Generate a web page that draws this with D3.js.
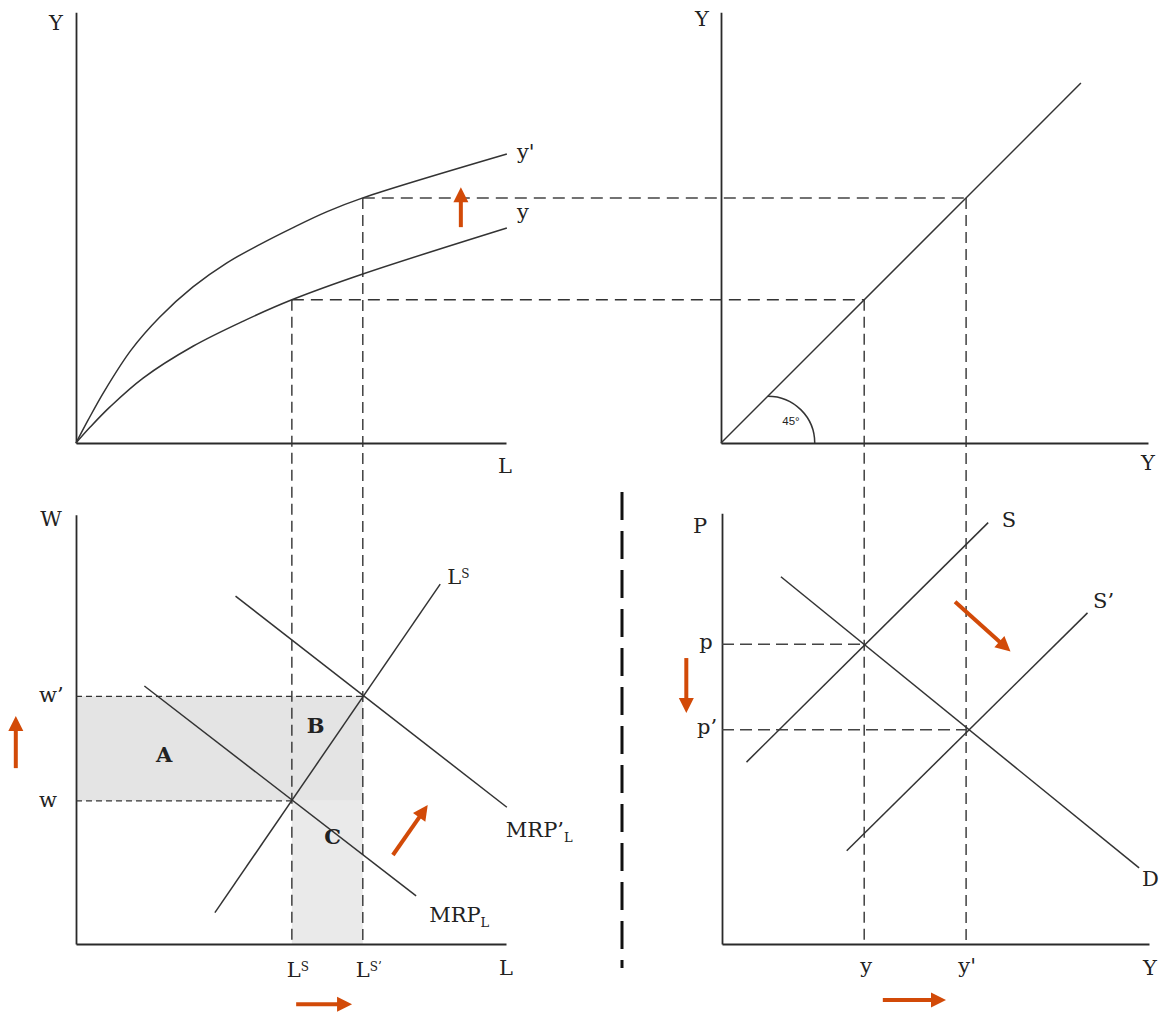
<!DOCTYPE html>
<html><head><meta charset="utf-8">
<script src="https://cdn.jsdelivr.net/npm/d3@7"></script>
<style>body{margin:0;background:#fff} svg{display:block}</style>
</head><body>
<svg id="c" width="1173" height="1016"></svg>
<script>
// ---------- data (panel units 0..10) ----------
const prodCurveY      = [[0,0],[0.33,0.37],[0.79,0.84],[1.56,1.51],[2.72,2.25],[3.88,2.83],[5.02,3.33],[6.67,3.93],[10.02,5.0]];
const prodCurveYPrime = [[0,0],[0.28,0.53],[0.65,1.19],[1.28,2.16],[1.95,2.93],[2.72,3.63],[3.51,4.19],[4.28,4.62],[5.05,5.01],[5.84,5.38],[6.67,5.70],[10.02,6.72]];
const labourLevels = [5.02, 6.67];   // Ls, Ls'
const outputLevels = [3.33, 5.70];   // y, y'
const wageLevels   = [3.33, 5.76];   // w, w'
const priceLevels  = [6.97, 4.98];   // p, p'
const line45        = [[0,0],[8.37,8.37]];
const angleRadius   = 1.09;
const mrpL          = [[1.59,6.0],[7.91,1.12]];
const mrpLPrime     = [[3.71,8.09],[10.02,3.18]];
const labourSupply  = [[3.23,0.73],[8.47,8.37]];
const supplyS       = [[0.57,4.23],[6.19,9.80]];
const supplySPrime  = [[2.90,2.17],[8.50,7.70]];
const demandD       = [[1.37,8.54],[9.70,1.77]];
const shiftArrows = [
  ['TL',[8.95,5.02],[8.95,5.95]],
  ['BL',[-1.40,4.09],[-1.40,5.30]],
  ['BL',[7.37,2.07],[8.18,3.23]],
  ['BL',[5.12,-1.40],[6.42,-1.40]],
  ['BR',[-0.83,6.65],[-0.83,5.37]],
  ['BR',[5.42,7.96],[6.71,6.80]],
  ['BR',[3.74,-1.30],[5.21,-1.30]]
];
const regionLabels = ['A','B','C'];

// ---------- layout ----------
const svg = d3.select('#c');
const INK = '#2a2a2a', ORANGE = '#d24a08';
const SERIF = "'DejaVu Serif', serif";
function mk(ox, oy){ return {x:d3.scaleLinear().domain([0,10]).range([ox, ox+430]),
                              y:d3.scaleLinear().domain([0,10]).range([oy, oy-430])}; }
const P = {TL: mk(76,443), TR: mk(721,443), BL: mk(76,944), BR: mk(722,944)};
const {TL, TR, BL, BR} = P;

const [L1, L2] = labourLevels, [Y1, Y2] = outputLevels, [w1, w2] = wageLevels, [p1, p2] = priceLevels;
svg.append('rect').attr('x', BL.x(0)).attr('y', BL.y(w2)).attr('width', BL.x(L2)-BL.x(0))
   .attr('height', BL.y(w1)-BL.y(w2)).attr('fill', '#e4e4e4');
svg.append('rect').attr('x', BL.x(L1)).attr('y', BL.y(w1)).attr('width', BL.x(L2)-BL.x(L1))
   .attr('height', BL.y(0)-BL.y(w1)).attr('fill', '#eaeaea');

function axes(sc, xmax, ymax){
  const xs = d3.scaleLinear().domain([0,xmax]).range([sc.x(0), sc.x(xmax)]);
  const ys = d3.scaleLinear().domain([0,ymax]).range([sc.y(0), sc.y(ymax)]);
  svg.append('g').attr('class','ax').attr('transform',`translate(0,${sc.y(0)})`)
     .call(d3.axisBottom(xs).tickValues([]).tickSizeOuter(0));
  svg.append('g').attr('class','ax').attr('transform',`translate(${sc.x(0)},0)`)
     .call(d3.axisLeft(ys).tickValues([]).tickSizeOuter(0));
}
axes(TL, 10, 10.02); axes(TR, 9.93, 10.02); axes(BL, 10, 9.98); axes(BR, 9.93, 10.02);
svg.selectAll('.ax .domain').attr('stroke', INK).attr('stroke-width', 1.8);

function dline(x1,y1,x2,y2,dash,w,col){
  svg.append('line').attr('x1',x1).attr('y1',y1).attr('x2',x2).attr('y2',y2)
     .attr('stroke',col||'#333').attr('stroke-width',w||1.4).attr('stroke-dasharray',dash);
}
dline(TL.x(L1), TL.y(Y1), TR.x(Y1), TR.y(Y1), '12,7', 1.5);
dline(TL.x(L2), TL.y(Y2), TR.x(Y2), TR.y(Y2), '12,7', 1.5, '#444');
dline(TL.x(L1), TL.y(Y1), BL.x(L1), BL.y(0), '11,6', 1.4);
dline(TL.x(L2), TL.y(Y2), BL.x(L2), BL.y(0), '11,6', 1.4);
dline(TR.x(Y1), TR.y(Y1), TR.x(Y1), BR.y(0), '11,6', 1.4);
dline(TR.x(Y2), TR.y(Y2), TR.x(Y2), BR.y(0), '11,6', 1.4);
dline(BL.x(0), BL.y(w2), BL.x(L2), BL.y(w2), '6,4', 1.3);
dline(BL.x(0), BL.y(w1), BL.x(L1), BL.y(w1), '6,4', 1.3);
dline(BR.x(0), BR.y(p1), BR.x(Y1), BR.y(p1), '12,6', 1.5, '#444');
dline(BR.x(0), BR.y(p2), BR.x(Y2), BR.y(p2), '12,6', 1.5, '#444');

svg.append('line').attr('x1',622).attr('x2',622).attr('y1',492).attr('y2',968)
   .attr('stroke','#111').attr('stroke-width',3).attr('stroke-dasharray','28,11');

function curve(sc, pts, c){
  svg.append('path').datum(pts)
     .attr('d', d3.line().x(d=>sc.x(d[0])).y(d=>sc.y(d[1])).curve(c||d3.curveLinear))
     .attr('fill','none').attr('stroke','#333').attr('stroke-width',1.5);
}
curve(TL, prodCurveYPrime, d3.curveCatmullRom.alpha(0.5));
curve(TL, prodCurveY, d3.curveCatmullRom.alpha(0.5));
curve(TR, line45);
curve(BL, mrpL); curve(BL, mrpLPrime); curve(BL, labourSupply);
curve(BR, supplyS); curve(BR, supplySPrime); curve(BR, demandD);
svg.append('path')
   .attr('d', `M${TR.x(angleRadius)},${TR.y(angleRadius)} A${TR.x(angleRadius)-TR.x(0)},${TR.y(0)-TR.y(angleRadius)} 0 0 1 ${TR.x(2*angleRadius)},${TR.y(0)}`)
   .attr('fill','none').attr('stroke','#333').attr('stroke-width',1.5);

shiftArrows.forEach(([pn, a, b]) => {
  const sc = P[pn];
  const X1=sc.x(a[0]), Y1_=sc.y(a[1]), X2=sc.x(b[0]), Y2_=sc.y(b[1]);
  const len=Math.hypot(X2-X1,Y2_-Y1_), ux=(X2-X1)/len, uy=(Y2_-Y1_)/len;
  const hl=15, hw=7.5, bx=X2-ux*hl, by=Y2_-uy*hl;
  svg.append('line').attr('x1',X1).attr('y1',Y1_).attr('x2',bx+ux*1).attr('y2',by+uy*1)
     .attr('stroke',ORANGE).attr('stroke-width',4);
  svg.append('polygon').attr('points',`${X2},${Y2_} ${bx-uy*hw},${by+ux*hw} ${bx+uy*hw},${by-ux*hw}`)
     .attr('fill',ORANGE);
});

function txt(x, y, parts, anchor, opts){
  opts = opts || {};
  const t = svg.append('text').attr('x',x).attr('y',y).attr('text-anchor',anchor||'middle')
     .attr('font-family', opts.family || SERIF).attr('font-size', opts.size || 21)
     .attr('font-weight', opts.weight || 'normal').attr('fill','#222');
  let shift = 0;
  parts.forEach(p => {
    if (typeof p === 'string') { t.append('tspan').attr('dy', -shift).text(p); shift = 0; }
    else { t.append('tspan').attr('font-size', p.size).attr('dy', p.dy - shift).text(p.t); shift = p.dy; }
  });
  return t;
}
const sup = s => ({t:s, size:12, dy:-6});
const sub = s => ({t:s, size:13, dy:5});

txt(TL.x(0)-20, TL.y(10)+17, ['Y']);
txt(TL.x(10)-1, TL.y(0)+30, ['L']);
txt(TL.x(10)+11, TL.y(prodCurveYPrime[prodCurveYPrime.length-1][1])+5, ["y'"], 'start');
txt(TL.x(10)+11, TL.y(prodCurveY[prodCurveY.length-1][1])-9, ['y'], 'start');
txt(TR.x(0)-19, TR.y(10)+13, ['Y']);
txt(TR.x(0)+427, TR.y(0)+27, ['Y']);
txt(TR.x(0)+70, TR.y(0)-18, ['45°'], 'middle', {family:"'Liberation Sans', Arial, sans-serif", size:11.5});
txt(BL.x(0)-25, BL.y(10)+12, ['W']);
txt(BL.x(0)-37, BL.y(w2)+6, ['w’'], 'start');
txt(BL.x(0)-37, BL.y(w1)+6, ['w'], 'start');
[[2.05,4.41],[5.57,5.09],[5.97,2.50]].forEach((pos,i) =>
  txt(BL.x(pos[0]), BL.y(pos[1])+7.6, [regionLabels[i]], 'middle', {weight:'bold'}));
txt(BL.x(labourSupply[1][0])+7, BL.y(labourSupply[1][1]), ['L', sup('S')], 'start');
txt(BL.x(mrpLPrime[1][0])-1, BL.y(mrpLPrime[1][1])+30, ['MRP’', sub('L')], 'start');
txt(BL.x(mrpL[1][0])+13, BL.y(mrpL[1][1])+26, ['MRP', sub('L')], 'start');
txt(BL.x(L1)-5, BL.y(0)+32.5, ['L', sup('S')], 'start');
txt(BL.x(L2)-7, BL.y(0)+32.5, ['L', sup('S’')], 'start');
txt(BL.x(10), BL.y(0)+31, ['L']);
txt(BR.x(0)-22, BR.y(10)+19, ['P']);
txt(BR.x(0)-16, BR.y(p1)+4.5, ['p']);
txt(BR.x(0)-25, BR.y(p2)+4, ['p’'], 'start');
txt(BR.x(supplyS[1][0])+13.5, BR.y(supplyS[1][1])+4, ['S'], 'start');
txt(BR.x(supplySPrime[1][0])+5.5, BR.y(supplySPrime[1][1])-5, ['S’'], 'start');
txt(BR.x(demandD[1][0])+3, BR.y(demandD[1][1])+18, ['D'], 'start');
txt(BR.x(Y1)+1, BR.y(0)+29, ['y']);
txt(BR.x(Y2), BR.y(0)+29, ["y'"]);
txt(BR.x(0)+428, BR.y(0)+31, ['Y']);
</script>
</body></html>
